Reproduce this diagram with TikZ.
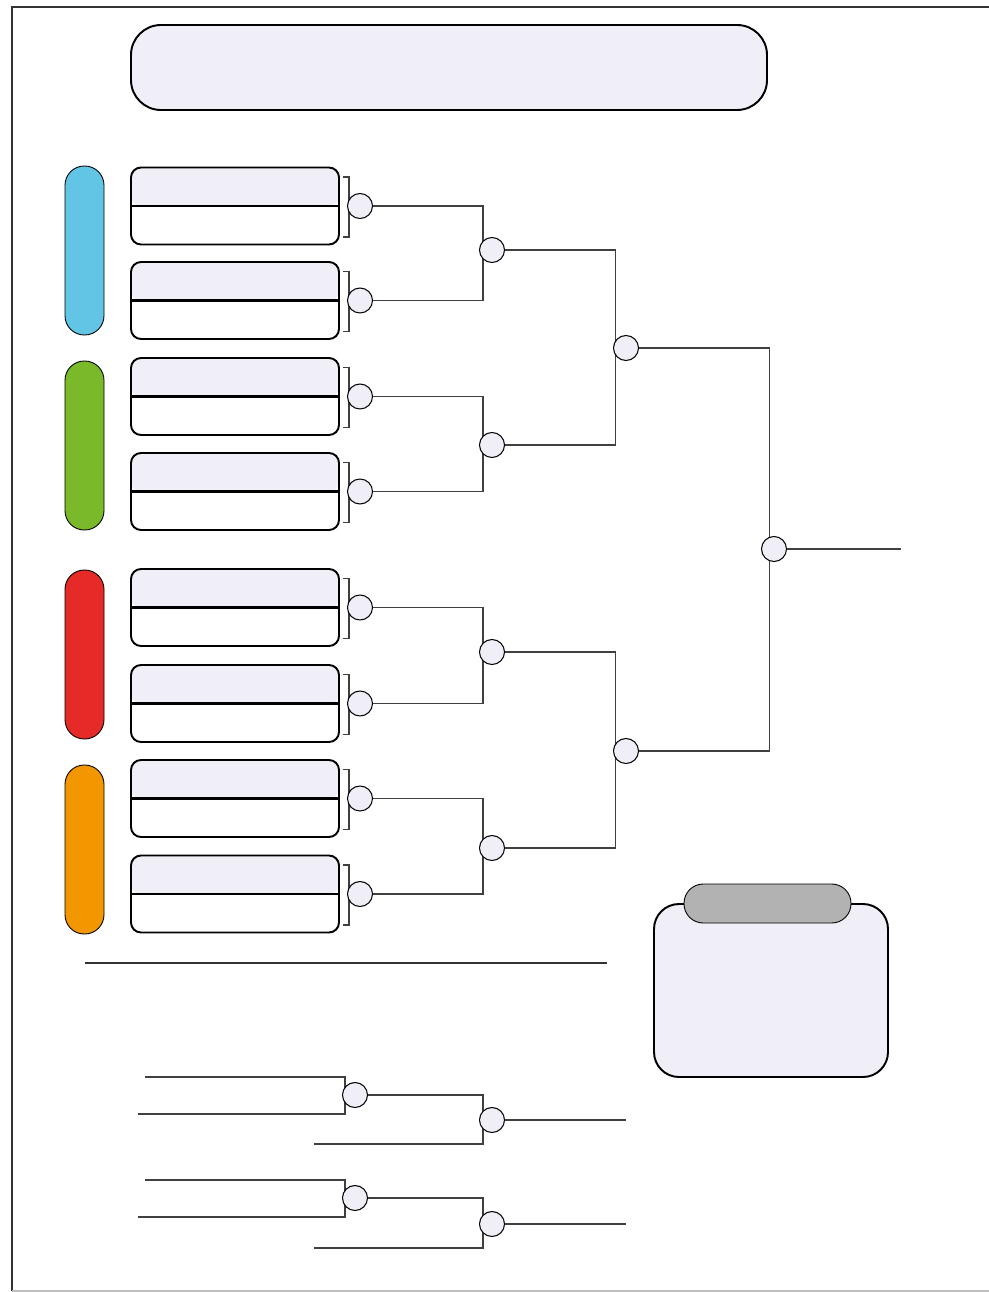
\documentclass[tikz,border=0pt]{standalone}
\usepackage{tikz}
\usetikzlibrary{positioning,backgrounds}
\definecolor{lav}{RGB}{240,239,248}
\definecolor{poolblue}{RGB}{98,197,230}
\definecolor{poolgreen}{RGB}{122,185,41}
\definecolor{poolred}{RGB}{229,42,40}
\definecolor{poolorange}{RGB}{243,151,0}

\begin{document}
\begin{tikzpicture}[x=0.2mm, y=-0.2mm,
  team/.style={draw, line width=1.1pt, rounded corners=0.2cm, fill=white,
               minimum width=4.16cm, minimum height=1.54cm, inner sep=0pt, outer sep=0pt,
               path picture={\fill[lav] (path picture bounding box.north west) rectangle (path picture bounding box.east);
                 \draw[line width=1.4pt] (path picture bounding box.west) -- (path picture bounding box.east);}},
  pill/.style={draw, line width=0.5pt, rounded corners=0.385cm, minimum width=0.78cm,
               minimum height=3.38cm, inner sep=0pt, outer sep=0pt},
  dot/.style={circle, draw, line width=0.6pt, fill=lav, minimum size=0.5cm, inner sep=0pt, outer sep=0pt},
  wire/.style={line width=0.6pt, black!75},
  brk/.style={line width=0.6pt, black!75},
]
\useasboundingbox (0,0) rectangle (989,1292);

% --- Frame ---
\draw[line width=0.6pt, black!80] (989,7) -- (12,7) -- (12,1291);
\draw[line width=0.6pt, black!25] (12,1291) -- (989,1291);

% --- Title ---
\node[draw, line width=1.1pt, rounded corners=0.6cm, fill=lav, minimum width=12.72cm,
      minimum height=1.7cm, inner sep=0pt] (title) at (449,67.5) {};

% --- Pools ---
\node[pill, fill=poolblue] (pblue) at (84.5,250.5) {};
\node[pill, fill=poolgreen] (pgreen) at (84.5,445.5) {};
\node[pill, fill=poolred] (pred) at (84.5,654.5) {};
\node[pill, fill=poolorange] (porange) at (84.5,849.5) {};

% --- Teams ---
\node[team] (t1) at (235,206) {};
\node[team] (t2) at (235,300.5) {};
\node[team] (t3) at (235,396.5) {};
\node[team] (t4) at (235,491.5) {};
\node[team] (t5) at (235,607.5) {};
\node[team] (t6) at (235,703.5) {};
\node[team] (t7) at (235,798.5) {};
\node[team] (t8) at (235,894) {};

\draw[brk] ([shift={(4,-29)}]t1.east) -- ++(6,0) -- ++(0,60) -- ++(-6,0);
\draw[brk] ([shift={(4,-29)}]t2.east) -- ++(6,0) -- ++(0,60) -- ++(-6,0);
\draw[brk] ([shift={(4,-29)}]t3.east) -- ++(6,0) -- ++(0,60) -- ++(-6,0);
\draw[brk] ([shift={(4,-29)}]t4.east) -- ++(6,0) -- ++(0,60) -- ++(-6,0);
\draw[brk] ([shift={(4,-29)}]t5.east) -- ++(6,0) -- ++(0,60) -- ++(-6,0);
\draw[brk] ([shift={(4,-29)}]t6.east) -- ++(6,0) -- ++(0,60) -- ++(-6,0);
\draw[brk] ([shift={(4,-29)}]t7.east) -- ++(6,0) -- ++(0,60) -- ++(-6,0);
\draw[brk] ([shift={(4,-29)}]t8.east) -- ++(6,0) -- ++(0,60) -- ++(-6,0);

% --- Round 1 ---
\node[dot, right=0.17cm of t1] (m1) {};
\node[dot, right=0.17cm of t2] (m2) {};
\node[dot, right=0.17cm of t3] (m3) {};
\node[dot, right=0.17cm of t4] (m4) {};
\node[dot, right=0.17cm of t5] (m5) {};
\node[dot, right=0.17cm of t6] (m6) {};
\node[dot, right=0.17cm of t7] (m7) {};
\node[dot, right=0.17cm of t8] (m8) {};

% --- Round 2, 3 and final ---
\node[dot] (q1) at (492,250) {};
\node[dot] (q2) at (492,445) {};
\node[dot] (q3) at (492,652) {};
\node[dot] (q4) at (492,848) {};
\node[dot] (s1) at (626,348) {};
\node[dot] (s2) at (626,751) {};
\node[dot] (fin) at (774,549) {};
\coordinate (champ) at (901,549);

\begin{scope}[on background layer]
\draw[wire] (m1.east) -| ([xshift=0.07cm]q1.west) |- (m2.east);
\draw[wire] (m3.east) -| ([xshift=0.07cm]q2.west) |- (m4.east);
\draw[wire] (m5.east) -| ([xshift=0.07cm]q3.west) |- (m6.east);
\draw[wire] (m7.east) -| ([xshift=0.07cm]q4.west) |- (m8.east);
\draw[wire] (q1.east) -| ([xshift=0.04cm]s1.west) |- (q2.east);
\draw[wire] (q3.east) -| ([xshift=0.04cm]s2.west) |- (q4.east);
\draw[wire] (s1.east) -| ([xshift=0.16cm]fin.west) |- (s2.east);
\draw[wire] (fin.east) -- (champ);
\end{scope}

% --- Separator ---
\draw[line width=0.6pt, black!80] (85,963) -- (607,963);

% --- Key ---
\node[draw, line width=1.1pt, rounded corners=0.5cm, fill=lav, minimum width=4.68cm,
      minimum height=3.46cm, inner sep=0pt] (key) at (771,990.5) {};
\node[draw, line width=0.5pt, rounded corners=0.385cm, fill=black!30, minimum width=3.34cm,
      minimum height=0.78cm, inner sep=0pt] (keytab) at (767.5,903.5) {};

% --- Small brackets ---
\coordinate (a1) at (145,1077);
\coordinate (a2) at (138,1114);
\coordinate (a3) at (314,1144);
\coordinate (a4) at (626,1120);
\node[dot] (b1) at (355,1095) {};
\node[dot] (b2) at (492,1120) {};
\coordinate (a5) at (145,1180);
\coordinate (a6) at (138,1217);
\coordinate (a7) at (314,1248);
\coordinate (a8) at (626,1224);
\node[dot] (b3) at (355,1198) {};
\node[dot] (b4) at (492,1224) {};

\begin{scope}[on background layer]
\draw[wire] (a1) -| ([xshift=0.05cm]b1.west) |- (a2);
\draw[wire] (b1.east) -| ([xshift=0.07cm]b2.west) |- (a3);
\draw[wire] (b2.east) -- (a4);
\draw[wire] (a5) -| ([xshift=0.05cm]b3.west) |- (a6);
\draw[wire] (b3.east) -| ([xshift=0.07cm]b4.west) |- (a7);
\draw[wire] (b4.east) -- (a8);
\end{scope}
\end{tikzpicture}
\end{document}
